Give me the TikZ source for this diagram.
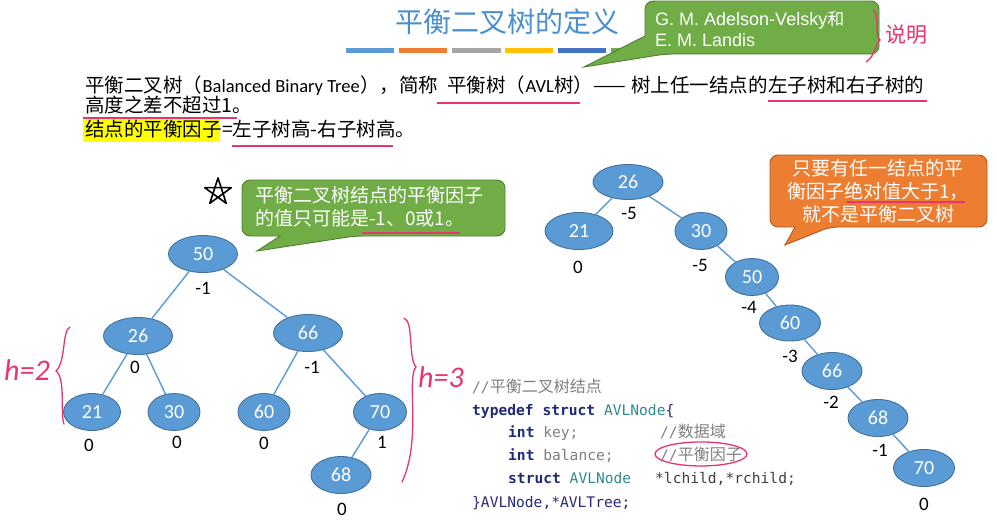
\documentclass[tikz,border=0pt]{standalone}
\usepackage{fontspec}
\setmainfont{Carlito}
\newfontfamily\cjk{Noto Sans CJK SC}
\newfontfamily\arial{Liberation Sans}
\newfontfamily\mono{DejaVu Sans Mono}
\usetikzlibrary{shapes.geometric,calc}
\definecolor{nodeblue}{HTML}{5B9BD5}
\definecolor{nodeborder}{HTML}{41719C}
\definecolor{edgeblue}{HTML}{5B9BD5}
\definecolor{titleblue}{HTML}{4A8FD0}
\definecolor{cgreen}{HTML}{70AD47}
\definecolor{cgreenb}{HTML}{507E32}
\definecolor{corange}{HTML}{ED7D31}
\definecolor{corangeb}{HTML}{AE5A21}
\definecolor{pinkred}{HTML}{E6356F}
\definecolor{hlyellow}{HTML}{FFFF00}
\definecolor{cgray}{HTML}{7F7F7F}
\definecolor{kw}{HTML}{1F2A7A}
\definecolor{ty}{HTML}{338A8A}
\definecolor{navy}{HTML}{2A2A7A}
\definecolor{bar1}{HTML}{5B9BD5}
\definecolor{bar2}{HTML}{ED7D31}
\definecolor{bar3}{HTML}{A5A5A5}
\definecolor{bar4}{HTML}{FFC000}
\definecolor{bar5}{HTML}{4472C4}
\definecolor{bar6}{HTML}{70AD47}
\tikzset{
  txt/.style={inner sep=0, anchor=base west, font=\cjk\fontsize{19.5}{21}\selectfont},
  lat/.style={inner sep=0, anchor=base west, font=\fontsize{18.5}{21}\selectfont},
  wtxt/.style={inner sep=0, text=white, font=\cjk\fontsize{19}{21}\selectfont},
  bnode/.style={ellipse, fill=nodeblue, draw=nodeborder, line width=0.9pt, text=white,
    font=\fontsize{20}{20}\selectfont, minimum width=55pt, minimum height=37pt, inner sep=0},
  edge/.style={draw=edgeblue, line width=1.4pt},
  bal/.style={font=\fontsize{19}{19}\selectfont, inner sep=0},
  pinkline/.style={draw=pinkred, line width=1.3pt},
  hand/.style={draw=pinkred, line width=1.3pt, line cap=round},
  code/.style={inner sep=0, anchor=base west, font=\mono\fontsize{14.6}{16}\selectfont},
  cmt/.style={inner sep=0, anchor=base west, text=cgray, font=\mono\fontsize{14.6}{16}\selectfont},
  bar/.style={line width=5pt},
  calltxt/.style={anchor=base west, text=white, font=\arial\fontsize{18}{21}\selectfont, inner sep=0},
}
\begin{document}
\begin{tikzpicture}[x=1pt,y=-1pt]
\useasboundingbox[fill=white] (0,0) rectangle (997,531);

% title
\node[font=\cjk\fontsize{28}{28}\selectfont, text=titleblue, inner sep=0] (title) at (507,22) {平衡二叉树的定义};
\draw[bar, bar1] (346,50) -- (394,50);
\draw[bar, bar2] (399,50) -- (447,50);
\draw[bar, bar3] (452,50) -- (501,50);
\draw[bar, bar4] (505,50) -- (553,50);
\draw[bar, bar5] (558,50) -- (606,50);
\draw[bar, bar6] (611,50) -- (659,50);

% callout 1
\draw[fill=cgreen, draw=cgreenb, line width=0.9pt, rounded corners=8pt]
  (645,1) -- (879,1) -- (879,54) -- (665,54) [sharp corners] -- (584,67) -- (645,36) [rounded corners=8pt] -- cycle;
\node[calltxt] (c1a) at (655,25) {G. M. Adelson-Velsky{\cjk\fontsize{17}{17}\selectfont 和}};
\node[calltxt] (c1b) at (655,46) {E. M. Landis};

% top right annotation
\draw[hand] (874,10) .. controls (880,20) and (874,34) .. (880,40) .. controls (874,46) and (876,55) .. (866,62);
\node[text=pinkred, font=\cjk\fontsize{21}{21}\selectfont, inner sep=0] (shuoming) at (906,35) {说明};

% line 1
\node[txt] (l1a) at (85,92) {平衡二叉树（};
\node[lat] (l1b) at (l1a.base east) {Balanced Binary Tree};
\node[txt] (l1c) at (l1b.base east) {），简称};
\node[txt] (l1d) at (447,92) {平衡树（};
\node[lat] (l1e) at (l1d.base east) {AVL};
\node[txt] (l1f) at (l1e.base east) {树）};
\node[txt] (l1g) at (l1f.base east) {——};
\node[txt] (l1h) at (768,92) {左子树和右子树的};
\node[txt, anchor=base east] (l1i) at (l1h.base west) {树上任一结点的};
\draw[pinkline] (437,103) -- (580,103);
\draw[pinkline] (768,101) -- (927,101);

% line 2
\node[txt] (l2) at (85,112) {高度之差不超过1。};
\draw[pinkline] (83,118) -- (237,118);

% line 3
\fill[hlyellow] (83,119) rectangle (220,142);
\node[txt] (l3a) at (85,136) {结点的平衡因子};
\node[txt] (l3b) at (l3a.base east) {=左子树高-右子树高。};
\draw[pinkline] (232,146) -- (393,146);

% star
\coordinate (sc) at (218,192);
\draw[line width=1.6pt, line cap=round, line join=round]
  ($(sc)+(-90:14)$) -- ($(sc)+(54:14)$) -- ($(sc)+(198:14)$) -- ($(sc)+(342:14)$) -- ($(sc)+(126:14)$) -- cycle;

% callout 2
\draw[fill=cgreen, draw=cgreenb, line width=0.9pt, rounded corners=8pt]
  (242,180) -- (505,180) -- (505,236) -- (355,236) [sharp corners] -- (257,251) -- (280,236) [rounded corners=8pt] -- (242,236) -- cycle;
\node[wtxt, anchor=base west] (c2a) at (255,202) {平衡二叉树结点的平衡因子};
\node[wtxt, anchor=base west] (c2b) at (255,225) {的值只可能是-1、0或1。};
\draw[pinkline] (362,233) -- (460,233);

% left tree
\node[bnode, minimum width=69pt] (a50) at (203,254) {50};
\node[bnode, minimum width=69pt] (a26) at (138,336) {26};
\node[bnode, minimum width=69pt] (a66) at (308,333) {66};
\node[bnode, minimum width=57pt] (a21) at (92,412) {21};
\node[bnode, minimum width=52pt] (a30) at (174,412) {30};
\node[bnode, minimum width=52pt] (a60) at (264,412) {60};
\node[bnode, minimum width=53pt] (a70) at (380,412) {70};
\node[bnode, minimum width=60pt] (a68) at (341,475) {68};
\draw[edge] (a50) -- (a26);
\draw[edge] (a50) -- (a66);
\draw[edge] (a26) -- (a21);
\draw[edge] (a26) -- (a30);
\draw[edge] (a66) -- (a60);
\draw[edge] (a66) -- (a70);
\draw[edge] (a70) -- (a68);
\node[bal] (b50) at (203,288) {-1};
\node[bal] (b26) at (135,367) {0};
\node[bal] (b66) at (312,367) {-1};
\node[bal] (b21) at (89,445) {0};
\node[bal] (b30) at (177,442) {0};
\node[bal] (b60) at (264,443) {0};
\node[bal] (b70) at (382,442) {1};
\node[bal] (b68) at (342,509) {0};

% h annotations
\node[text=pinkred, font=\fontsize{30}{30}\selectfont\itshape, inner sep=0] (h2) at (27,370) {h=2};
\draw[hand] (70,327) .. controls (62,330) and (66,362) .. (56,371) .. controls (66,378) and (60,415) .. (64,424);
\draw[hand] (404,318) .. controls (414,322) and (408,358) .. (416,367) .. controls (406,378) and (422,440) .. (402,482);
\node[text=pinkred, font=\fontsize{30}{30}\selectfont\itshape, inner sep=0] (h3) at (441,377) {h=3};

% right tree
\node[bnode, minimum width=70pt, minimum height=35pt] (r26) at (628,182) {26};
\node[bnode, minimum width=68pt] (r21) at (579,231) {21};
\node[bnode, minimum width=52pt] (r30) at (701,231) {30};
\node[bnode, minimum width=53pt] (r50) at (752,277) {50};
\node[bnode, minimum width=61pt, minimum height=36pt] (r60) at (790,323) {60};
\node[bnode, minimum width=60pt] (r66) at (832,371) {66};
\node[bnode, minimum width=60pt] (r68) at (878,418) {68};
\node[bnode, minimum width=61pt] (r70) at (924,468) {70};
\draw[edge] (r26) -- (r21);
\draw[edge] (r26) -- (r30);
\draw[edge] (r30) -- (r50);
\draw[edge] (r50) -- (r60);
\draw[edge] (r60) -- (r66);
\draw[edge] (r66) -- (r68);
\draw[edge] (r68) -- (r70);
\node[bal] (q26) at (629,213) {-5};
\node[bal] (q21) at (578,267) {0};
\node[bal] (q30) at (700,265) {-5};
\node[bal] (q50) at (749,307) {-4};
\node[bal] (q60) at (790,356) {-3};
\node[bal] (q66) at (831,402) {-2};
\node[bal] (q68) at (880,450) {-1};
\node[bal] (q70) at (924,504) {0};

% orange callout
\draw[fill=corange, draw=corangeb, line width=0.9pt, rounded corners=8pt]
  (770,155) -- (987,155) -- (987,227) -- (830,227) [sharp corners] -- (785,245) -- (795,227) [rounded corners=8pt] -- (770,227) -- cycle;
\node[wtxt, anchor=base] (o1) at (878,175) {只要有任一结点的平};
\node[wtxt, anchor=base] (o2) at (878,198) {衡因子绝对值大于1，};
\node[wtxt, anchor=base] (o3) at (878,221) {就不是平衡二叉树};
\draw[pinkline] (847,202) -- (965,202);

% code
\node[cmt] (cd0) at (472,392) {//{\cjk\fontsize{16}{16}\selectfont 平衡二叉树结点}};
\node[code] (cd1) at (472,415) {\textcolor{kw}{\bfseries typedef struct} \textcolor{ty}{AVLNode}\textcolor{navy}{\{}};
\node[code] (cd2) at (508,437) {\textcolor{kw}{\bfseries int} \textcolor{cgray}{key;}};
\node[cmt] (cd2c) at (660,437) {//{\cjk\fontsize{16}{16}\selectfont 数据域}};
\node[code] (cd3) at (508,460) {\textcolor{kw}{\bfseries int} \textcolor{cgray}{balance;}};
\node[cmt] (cd3c) at (660,460) {//{\cjk\fontsize{16}{16}\selectfont 平衡因子}};
\node[code] (cd4) at (508,483) {\textcolor{kw}{\bfseries struct} \textcolor{ty}{AVLNode}};
\node[code, text=black!75] (cd4b) at (655,483) {*lchild,*rchild;};
\node[code, text=navy] (cd5) at (472,507) {\}AVLNode,*AVLTree;};
\draw[pinkline] (cd3c.center) ellipse (46pt and 12pt);
\end{tikzpicture}
\end{document}
